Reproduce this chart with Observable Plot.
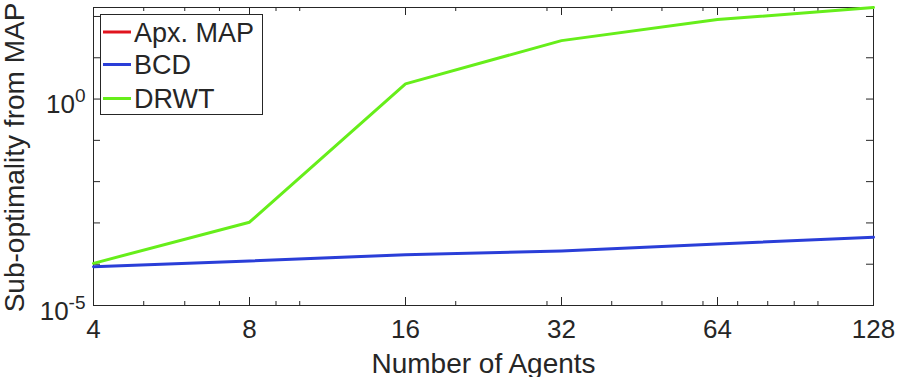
<!DOCTYPE html>
<html>
<head>
<meta charset="utf-8">
<script src="https://cdn.jsdelivr.net/npm/d3@7"></script>
<script src="https://cdn.jsdelivr.net/npm/@observablehq/plot@0.6"></script>
<style>
  html, body { margin: 0; padding: 0; background: white; }
</style>
</head>
<body>
<div id="chart"></div>
<script>
// ---- data ----
const agents = [4, 8, 16, 32, 64, 128];
const apxMap = [0, 0, 0, 0, 0, 0];            // identical to MAP -> not drawable on log axis
const bcd    = [8.7e-5, 1.2e-4, 1.7e-4, 2.1e-4, 3.1e-4, 4.5e-4];
const drwt   = [1.05e-4, 1.04e-3, 2.33, 26, 84, 165];
const seriesNames = ["Apx. MAP", "BCD", "DRWT"];
const seriesColors = ["#e0141e", "#2a3ed8", "#66ee1a"];
const xMajorTicks = [4, 8, 16, 32, 64, 128];
const xMinorTicks = [5, 6, 7, 9, 10, 20, 30, 40, 50, 60, 70, 80, 90, 100];
const yDecadeTicks = [1e-5, 1e-4, 1e-3, 1e-2, 1e-1, 1, 10, 100];
const yLabeledTicks = [1e-5, 1];
const xLabel = "Number of Agents";
const yLabel = "Sub-optimality from MAP";

// ---- build table ----
const seriesValues = [apxMap, bcd, drwt];
const rows = [];
seriesNames.forEach((name, i) => {
  agents.forEach((a, j) => rows.push({series: name, agents: a, value: seriesValues[i][j]}));
});

const W = 897, Hh = 377;
const mL = 93, mR = 24, mT = 7, mB = 72;
const pw = W - mL - mR, ph = Hh - mT - mB;
const axisColor = "#262626";
const font = "'Liberation Sans', Arial, Helvetica, sans-serif";

const svg = Plot.plot({
  width: W,
  height: Hh,
  marginLeft: mL, marginRight: mR, marginTop: mT, marginBottom: mB,
  style: {fontFamily: font, fontSize: "26px", color: axisColor, background: "white"},
  x: {type: "log", base: 2, domain: [4, 128]},
  y: {type: "log", domain: [1e-5, d3.max(drwt)]},
  color: {domain: seriesNames, range: seriesColors},
  marks: [
    Plot.frame({stroke: axisColor, strokeWidth: 1}),
    // inward ticks, bottom & top
    Plot.tickX(xMajorTicks, {x: d => d, insetTop: ph - 8, stroke: axisColor}),
    Plot.tickX(xMajorTicks, {x: d => d, insetBottom: ph - 8, stroke: axisColor}),
    Plot.tickX(xMinorTicks, {x: d => d, insetTop: ph - 4, stroke: axisColor}),
    Plot.tickX(xMinorTicks, {x: d => d, insetBottom: ph - 4, stroke: axisColor}),
    // inward ticks, left & right
    Plot.tickY(yDecadeTicks, {y: d => d, insetRight: pw - 7, stroke: axisColor}),
    Plot.tickY(yDecadeTicks, {y: d => d, insetLeft: pw - 7, stroke: axisColor}),
    Plot.axisX(xMajorTicks, {tickSize: 0, tickPadding: 14, tickFormat: d => String(d), fontSize: 26, label: null, fill: axisColor}),
    Plot.axisY(yLabeledTicks, {tickSize: 0, tickPadding: 8, dy: 6, tickFormat: d => "10^" + Math.round(Math.log10(d)), fontSize: 26, label: null, fill: axisColor}),
    Plot.text([xLabel], {frameAnchor: "bottom", lineAnchor: "bottom", textAnchor: "middle", dy: 67, fontSize: 28, fill: axisColor, text: d => d}),
    Plot.text([yLabel], {frameAnchor: "left", lineAnchor: "bottom", textAnchor: "middle", rotate: -90, dx: -70, dy: 1, fontSize: 28, fill: axisColor, text: d => d}),
    Plot.line(rows, {x: "agents", y: "value", z: "series", stroke: "series", strokeWidth: 3})
  ]
});

// superscript exponents on y tick labels
const ns = "http://www.w3.org/2000/svg";
svg.querySelectorAll('g[aria-label="y-axis tick label"] text').forEach(t => {
  const m = t.textContent.match(/^10\^(-?\d+)$/);
  if (!m) return;
  t.textContent = "";
  const b = document.createElementNS(ns, "tspan");
  b.textContent = "10";
  const s = document.createElementNS(ns, "tspan");
  s.textContent = m[1];
  s.setAttribute("dy", "-11");
  s.setAttribute("font-size", "19");
  t.appendChild(b);
  t.appendChild(s);
});

// legend
const lg = document.createElementNS(ns, "g");
lg.setAttribute("font-family", font);
lg.setAttribute("text-anchor", "start");
const box = document.createElementNS(ns, "rect");
box.setAttribute("x", 100.5); box.setAttribute("y", 14.5);
box.setAttribute("width", 162); box.setAttribute("height", 100);
box.setAttribute("fill", "white"); box.setAttribute("stroke", axisColor);
lg.appendChild(box);
const rowY = [32, 64.5, 98.5];
seriesNames.forEach((name, i) => {
  const l = document.createElementNS(ns, "line");
  l.setAttribute("x1", 103); l.setAttribute("x2", 131);
  l.setAttribute("y1", rowY[i]); l.setAttribute("y2", rowY[i]);
  l.setAttribute("stroke", seriesColors[i]); l.setAttribute("stroke-width", 3);
  lg.appendChild(l);
  const tx = document.createElementNS(ns, "text");
  tx.setAttribute("x", 134); tx.setAttribute("y", rowY[i] + 9.5);
  tx.setAttribute("text-anchor", "start");
  tx.setAttribute("font-size", 27); tx.setAttribute("fill", axisColor);
  tx.textContent = name;
  lg.appendChild(tx);
});
svg.appendChild(lg);

document.getElementById("chart").appendChild(svg);
</script>
</body>
</html>
